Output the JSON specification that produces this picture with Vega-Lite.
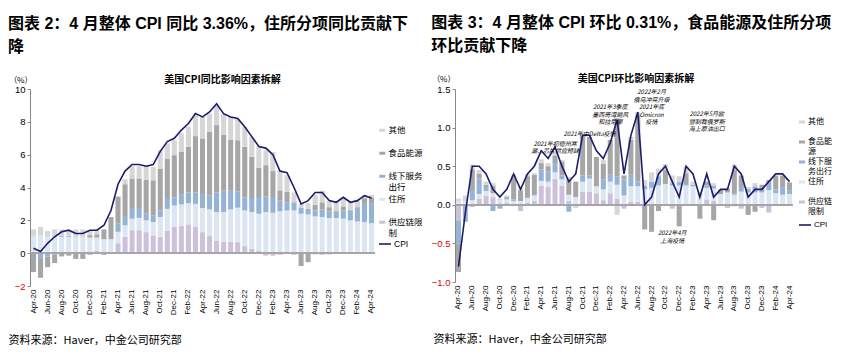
{
  "$schema": "https://vega.github.io/schema/vega-lite/v6.json",
  "background": "white",
  "padding": {"left": 8, "top": 15, "right": 0, "bottom": 0},
  "spacing": 8,
  "resolve": {"scale": {"fill": "independent", "stroke": "independent"}, "legend": {"fill": "independent", "stroke": "independent"}},
  "config": {
    "view": {"stroke": null},
    "font": "Liberation Sans, Noto Sans CJK SC",
    "axis": {"labelColor": "#000", "titleColor": "#000", "labelOverlap": false},
    "axisY": {"labelOverlap": false, "tickCount": 8},
    "axisQuantitative": {"labelOverlap": false}
  },
  "datasets": {
    "yoy": [
      {"m":"Apr-20","s":0.05,"h":1.0,"o":-0.05,"f":-1.1,"x":0.4,"c":0.3},
      {"m":"May-20","s":0.05,"h":1.05,"o":-0.3,"f":-1.2,"x":0.5,"c":0.1},
      {"m":"Jun-20","s":0,"h":1.0,"o":-0.2,"f":-0.65,"x":0.35,"c":0.6},
      {"m":"Jul-20","s":0.05,"h":0.95,"o":-0.1,"f":-0.5,"x":0.45,"c":1.0},
      {"m":"Aug-20","s":0.05,"h":0.95,"o":0.05,"f":-0.2,"x":0.4,"c":1.3},
      {"m":"Sep-20","s":0.05,"h":0.95,"o":0.05,"f":-0.15,"x":0.35,"c":1.4},
      {"m":"Oct-20","s":0.05,"h":0.9,"o":0,"f":-0.35,"x":0.5,"c":1.2},
      {"m":"Nov-20","s":0.05,"h":0.9,"o":0,"f":-0.35,"x":0.5,"c":1.2},
      {"m":"Dec-20","s":0.1,"h":0.85,"o":-0.1,"f":0.15,"x":0.3,"c":1.4},
      {"m":"Jan-21","s":0.15,"h":0.8,"o":-0.05,"f":0.2,"x":0.3,"c":1.4},
      {"m":"Feb-21","s":0.05,"h":0.8,"o":-0.1,"f":0.6,"x":0,"c":1.7},
      {"m":"Mar-21","s":0.1,"h":0.75,"o":0,"f":1.35,"x":0,"c":2.6},
      {"m":"Apr-21","s":0.6,"h":0.7,"o":0.5,"f":1.65,"x":0,"c":4.2},
      {"m":"May-21","s":1.0,"h":0.7,"o":0.56,"f":1.94,"x":0.3,"c":5.0},
      {"m":"Jun-21","s":1.4,"h":0.7,"o":0.6,"f":1.85,"x":0.75,"c":5.4},
      {"m":"Jul-21","s":1.4,"h":0.75,"o":0.6,"f":1.8,"x":0.75,"c":5.4},
      {"m":"Aug-21","s":1.28,"h":0.72,"o":0.4,"f":2.08,"x":0.87,"c":5.3},
      {"m":"Sep-21","s":1.08,"h":0.82,"o":0.4,"f":2.14,"x":0.81,"c":5.4},
      {"m":"Oct-21","s":0.98,"h":1.22,"o":0.4,"f":2.55,"x":1.12,"c":6.2},
      {"m":"Nov-21","s":1.38,"h":1.32,"o":0.6,"f":2.46,"x":0.92,"c":6.8},
      {"m":"Dec-21","s":1.6,"h":1.3,"o":0.5,"f":2.57,"x":0.91,"c":7.0},
      {"m":"Jan-22","s":1.65,"h":1.32,"o":0.63,"f":2.57,"x":1.13,"c":7.5},
      {"m":"Feb-22","s":1.75,"h":1.3,"o":0.65,"f":2.78,"x":1.22,"c":7.9},
      {"m":"Mar-22","s":1.6,"h":1.4,"o":0.7,"f":3.43,"x":1.27,"c":8.5},
      {"m":"Apr-22","s":1.28,"h":1.47,"o":0.85,"f":3.39,"x":1.31,"c":8.3},
      {"m":"May-22","s":1.04,"h":1.63,"o":0.83,"f":3.89,"x":1.11,"c":8.6},
      {"m":"Jun-22","s":0.77,"h":1.73,"o":1.2,"f":4.1,"x":1.2,"c":9.1},
      {"m":"Jul-22","s":0.71,"h":1.79,"o":1.3,"f":3.43,"x":1.27,"c":8.5},
      {"m":"Aug-22","s":0.71,"h":1.96,"o":1.13,"f":3.12,"x":1.38,"c":8.3},
      {"m":"Sep-22","s":0.67,"h":2.1,"o":0.98,"f":3.13,"x":1.32,"c":8.2},
      {"m":"Oct-22","s":0.43,"h":2.17,"o":0.8,"f":3.08,"x":1.22,"c":7.7},
      {"m":"Nov-22","s":0.26,"h":2.24,"o":0.8,"f":2.57,"x":1.23,"c":7.1},
      {"m":"Dec-22","s":0.15,"h":2.25,"o":1.02,"f":1.78,"x":1.3,"c":6.5},
      {"m":"Jan-23","s":-0.15,"h":2.5,"o":0.96,"f":1.9,"x":0.9,"c":6.4},
      {"m":"Feb-23","s":-0.15,"h":2.46,"o":0.96,"f":1.58,"x":1.17,"c":6.0},
      {"m":"Mar-23","s":-0.1,"h":2.55,"o":0.65,"f":0.63,"x":1.22,"c":5.0},
      {"m":"Apr-23","s":-0.05,"h":2.6,"o":0.5,"f":0.63,"x":1.02,"c":4.9},
      {"m":"May-23","s":-0.1,"h":2.6,"o":0.45,"f":0.05,"x":0.6,"c":4.0},
      {"m":"Jun-23","s":0,"h":2.4,"o":0.35,"f":-0.78,"x":0.25,"c":3.0},
      {"m":"Jul-23","s":0,"h":2.36,"o":0.34,"f":-0.55,"x":0.35,"c":3.2},
      {"m":"Aug-23","s":-0.08,"h":2.24,"o":0.36,"f":0.35,"x":0.6,"c":3.7},
      {"m":"Sep-23","s":-0.1,"h":2.2,"o":0.45,"f":0.45,"x":0.7,"c":3.7},
      {"m":"Oct-23","s":-0.08,"h":2.14,"o":0.41,"f":0.25,"x":0.4,"c":3.2},
      {"m":"Nov-23","s":-0.05,"h":2.14,"o":0.41,"f":0.05,"x":0.5,"c":3.1},
      {"m":"Dec-23","s":0,"h":2.1,"o":0.5,"f":0.25,"x":0.5,"c":3.4},
      {"m":"Jan-24","s":0,"h":2.0,"o":0.6,"f":0.05,"x":0.45,"c":3.1},
      {"m":"Feb-24","s":0,"h":1.93,"o":0.77,"f":0.1,"x":0.4,"c":3.2},
      {"m":"Mar-24","s":0,"h":1.9,"o":1.1,"f":0.35,"x":0.15,"c":3.5},
      {"m":"Apr-24","s":-0.05,"h":1.83,"o":1.22,"f":0.35,"x":0.15,"c":3.36}
    ],
    "mom": [
      {"m":"Apr-20","s":-0.2,"h":0.05,"o":-0.3,"f":-0.37,"x":0.03,"c":-0.8},
      {"m":"May-20","s":0,"h":0.05,"o":-0.22,"f":0,"x":0.07,"c":-0.1},
      {"m":"Jun-20","s":-0.03,"h":0.06,"o":0.12,"f":0.28,"x":0.06,"c":0.5},
      {"m":"Jul-20","s":0.08,"h":0.06,"o":0.2,"f":0.06,"x":0.05,"c":0.5},
      {"m":"Aug-20","s":0.12,"h":0.06,"o":0.05,"f":0.03,"x":0.04,"c":0.4},
      {"m":"Sep-20","s":0.1,"h":0.05,"o":-0.08,"f":0.1,"x":0.03,"c":0.2},
      {"m":"Oct-20","s":0.02,"h":0.04,"o":-0.05,"f":0,"x":0.02,"c":0.1},
      {"m":"Nov-20","s":0.03,"h":0.04,"o":0.03,"f":0,"x":0.02,"c":0.2},
      {"m":"Dec-20","s":0,"h":0.05,"o":0.02,"f":0.3,"x":0.02,"c":0.4},
      {"m":"Jan-21","s":-0.08,"h":0.05,"o":0,"f":0.14,"x":0.02,"c":0.2},
      {"m":"Feb-21","s":0.03,"h":0.06,"o":0,"f":0.28,"x":0.03,"c":0.4},
      {"m":"Mar-21","s":0.05,"h":0.07,"o":0.02,"f":0.25,"x":0.02,"c":0.5},
      {"m":"Apr-21","s":0.25,"h":0.06,"o":0.15,"f":0.08,"x":0.05,"c":0.7},
      {"m":"May-21","s":0.23,"h":0.07,"o":0.13,"f":0.07,"x":0.04,"c":0.6},
      {"m":"Jun-21","s":0.34,"h":0.08,"o":0.12,"f":0.1,"x":0.05,"c":0.75,"note":"2021年初德州寒|潮、芯片供应短缺","ny":0.83},
      {"m":"Jul-21","s":0.25,"h":0.08,"o":0.05,"f":0.18,"x":0.02,"c":0.5},
      {"m":"Aug-21","s":0.05,"h":0.08,"o":-0.09,"f":0.2,"x":0.03,"c":0.3},
      {"m":"Sep-21","s":0,"h":0.1,"o":0,"f":0.2,"x":-0.04,"c":0.4},
      {"m":"Oct-21","s":0.17,"h":0.13,"o":0.08,"f":0.52,"x":0,"c":0.9},
      {"m":"Nov-21","s":0.17,"h":0.17,"o":0.04,"f":0.5,"x":0,"c":0.9,"note":"2021年中Delta疫情","ny":0.95},
      {"m":"Dec-21","s":0.15,"h":0.09,"o":0,"f":0.38,"x":0,"c":0.7},
      {"m":"Jan-22","s":0.06,"h":0.14,"o":0.13,"f":0.2,"x":0.05,"c":0.6},
      {"m":"Feb-22","s":0.15,"h":0.15,"o":0.09,"f":0.45,"x":0,"c":0.8,"note":"2021年3季度|墨西哥湾飓风|和拉尼娜","ny":1.3},
      {"m":"Mar-22","s":0.08,"h":0.18,"o":0.11,"f":0.75,"x":-0.13,"c":1.1},
      {"m":"Apr-22","s":-0.05,"h":0.12,"o":0.21,"f":0.05,"x":0,"c":0.4},
      {"m":"May-22","s":0.04,"h":0.2,"o":0.15,"f":0.45,"x":0.04,"c":0.9},
      {"m":"Jun-22","s":0.04,"h":0.2,"o":0.06,"f":0.86,"x":0.04,"c":1.2},
      {"m":"Jul-22","s":0,"h":0.2,"o":0.05,"f":-0.32,"x":0.07,"c":0},
      {"m":"Aug-22","s":0,"h":0.22,"o":0.08,"f":-0.35,"x":0.12,"c":0.1,"note":"2022年2月|俄乌冲突升级||2021年底|Omicron|疫情","ny":1.5},
      {"m":"Sep-22","s":0,"h":0.25,"o":0.12,"f":-0.08,"x":0.1,"c":0.4},
      {"m":"Oct-22","s":0,"h":0.27,"o":0,"f":0.18,"x":0.08,"c":0.5},
      {"m":"Nov-22","s":-0.05,"h":0.25,"o":0.03,"f":0,"x":0.1,"c":0.3,"note":"2022年4月|上海疫情","ny":-0.33},
      {"m":"Dec-22","s":0,"h":0.25,"o":0.05,"f":-0.28,"x":0.07,"c":0.1},
      {"m":"Jan-23","s":0,"h":0.25,"o":0.02,"f":0.14,"x":0.08,"c":0.5},
      {"m":"Feb-23","s":0,"h":0.24,"o":0.02,"f":0,"x":0.04,"c":0.4},
      {"m":"Mar-23","s":0,"h":0.17,"o":0,"f":-0.18,"x":0,"c":0.1},
      {"m":"Apr-23","s":0.07,"h":0.15,"o":0.03,"f":0.05,"x":0,"c":0.4,"note":"2022年5月欧|盟制裁俄罗斯|海上原油出口","ny":1.21},
      {"m":"May-23","s":0.05,"h":0.16,"o":0.04,"f":-0.2,"x":0.03,"c":0.1},
      {"m":"Jun-23","s":0,"h":0.14,"o":0,"f":0.05,"x":0,"c":0.2},
      {"m":"Jul-23","s":-0.04,"h":0.16,"o":0,"f":0.05,"x":0,"c":0.2},
      {"m":"Aug-23","s":-0.02,"h":0.13,"o":0.02,"f":0.3,"x":0.07,"c":0.5},
      {"m":"Sep-23","s":-0.05,"h":0.17,"o":0.06,"f":0.15,"x":0,"c":0.4},
      {"m":"Oct-23","s":0,"h":0.16,"o":0.05,"f":-0.13,"x":0.02,"c":0.1},
      {"m":"Nov-23","s":0,"h":0.16,"o":0.08,"f":-0.09,"x":0.04,"c":0.2},
      {"m":"Dec-23","s":-0.04,"h":0.16,"o":0.06,"f":0.04,"x":0,"c":0.2},
      {"m":"Jan-24","s":-0.1,"h":0.19,"o":0.1,"f":0.03,"x":0,"c":0.3},
      {"m":"Feb-24","s":0,"h":0.15,"o":0.05,"f":0.18,"x":0,"c":0.4},
      {"m":"Mar-24","s":0,"h":0.13,"o":0.1,"f":0.15,"x":0,"c":0.4},
      {"m":"Apr-24","s":0,"h":0.14,"o":0.05,"f":0.1,"x":0,"c":0.3}
    ]
  },
  "hconcat": [
    {
      "title": {"text": ["图表 2：4 月整体 CPI 同比 3.36%，住所分项同比贡献下", "降"], "anchor": "start", "fontSize": 16, "fontWeight": "bold", "font": "Liberation Sans, Noto Sans CJK SC", "lineHeight": 23, "color": "#000", "offset": 20},
      "vconcat": [
        {
          "title": {"text": "美国CPI同比影响因素拆解", "anchor": "middle", "frame": "group", "fontSize": 10, "fontWeight": "bold", "font": "Noto Sans CJK SC", "color": "#000", "dx": 20, "offset": -9},
          "width": 345,
          "height": 197,
          "data": {"name": "yoy"},
          "layer": [
            {
              "transform": [
                {"fold": ["s", "h", "o", "f", "x"], "as": ["k", "v"]},
                {"calculate": "indexof(['s','h','o','f','x'], datum.k)", "as": "ord"}
              ],
              "mark": {"type": "bar"},
              "encoding": {
                "x": {"field": "m", "type": "ordinal", "sort": null, "scale": {"paddingInner": 0.28, "paddingOuter": 0.14},
                  "axis": {"values": ["Apr-20","Jun-20","Aug-20","Oct-20","Dec-20","Feb-21","Apr-21","Jun-21","Aug-21","Oct-21","Dec-21","Feb-22","Apr-22","Jun-22","Aug-22","Oct-22","Dec-22","Feb-23","Apr-23","Jun-23","Aug-23","Oct-23","Dec-23","Feb-24","Apr-24"],
                    "labelAngle": 270, "labelFontSize": 8, "labelFont": "Liberation Sans", "labelPadding": 3, "ticks": false, "domain": false,
                    "title": "资料来源：Haver，中金公司研究部", "titleFont": "Noto Sans CJK SC", "titleFontSize": 11, "titleFontWeight": "normal",
                    "titleAnchor": "start", "titleAlign": "left", "titleX": -22, "titleY": 54, "titleBaseline": "middle"}},
                "y": {"field": "v", "type": "quantitative", "stack": "zero", "title": "（%）", "scale": {"domain": [-2, 10], "nice": false},
                  "axis": {"values": [-2, 0, 2, 4, 6, 8, 10], "labelOverlap": false, "grid": false, "domainColor": "#888", "tickColor": "#888", "tickSize": 3,
                    "labelFontSize": 9.5, "labelFont": "Liberation Sans", "labelPadding": 2,
                    "labelColor": {"condition": {"test": "datum.value < 0", "value": "#e00000"}, "value": "#000"},
                    "titleAngle": 0, "titleX": 2, "titleY": -9, "titleAlign": "right", "titleBaseline": "middle", "titleFontSize": 8, "titleFontWeight": "normal", "titleFont": "Noto Sans CJK SC"}},
                "fill": {"field": "k", "type": "nominal",
                  "scale": {"domain": ["x", "f", "o", "h", "s"], "range": ["#d6d6d6", "#a6a6a6", "#95b3d7", "#dce6f2", "#ccc1da"]},
                  "legend": {"orient": "none", "legendX": 348, "legendY": 37, "title": null, "symbolType": "M-1,-0.5H1V0.5H-1Z", "symbolSize": 36, "symbolStrokeWidth": 0,
                    "labelFontSize": 8.5, "labelFont": "Noto Sans CJK SC", "gridAlign": "all", "rowPadding": 3, "labelOffset": 2, "labelLimit": 60,
                    "labelExpr": "datum.label == 'x' ? '其他' : datum.label == 'f' ? '食品能源' : datum.label == 'o' ? ['线下服务','出行'] : datum.label == 'h' ? '住所' : ['供应链限','制']"}},
                "order": {"field": "ord", "type": "quantitative"}
              }
            },
            {"mark": {"type": "rule", "color": "#a6a6a6", "strokeWidth": 1}, "encoding": {"y": {"datum": 0}}},
            {
              "mark": {"type": "line", "strokeWidth": 1.6},
              "encoding": {
                "x": {"field": "m", "type": "ordinal", "sort": null},
                "y": {"field": "c", "type": "quantitative", "title": "（%）"},
                "stroke": {"datum": "CPI", "type": "nominal", "scale": {"range": ["#1c1c6e"]},
                  "legend": {"orient": "none", "legendX": 348, "legendY": 148, "title": null, "symbolType": "stroke", "symbolSize": 144, "symbolStrokeWidth": 1.6, "labelFontSize": 8.5, "labelFont": "Liberation Sans", "labelOffset": 2}}
              }
            }
          ]
        }
      ]
    },
    {
      "title": {"text": ["图表 3：4 月整体 CPI 环比 0.31%，食品能源及住所分项", "环比贡献下降"], "anchor": "start", "fontSize": 16, "fontWeight": "bold", "font": "Liberation Sans, Noto Sans CJK SC", "lineHeight": 23, "color": "#000", "offset": 20},
      "vconcat": [
        {
          "title": {"text": "美国CPI环比影响因素拆解", "anchor": "middle", "frame": "group", "fontSize": 10, "fontWeight": "bold", "font": "Noto Sans CJK SC", "color": "#000", "dx": 12, "offset": -9},
          "width": 338,
          "height": 193,
          "data": {"name": "mom"},
          "layer": [
            {
              "transform": [
                {"fold": ["s", "h", "o", "f", "x"], "as": ["k", "v"]},
                {"calculate": "indexof(['s','h','o','f','x'], datum.k)", "as": "ord"}
              ],
              "mark": {"type": "bar"},
              "encoding": {
                "x": {"field": "m", "type": "ordinal", "sort": null, "scale": {"paddingInner": 0.27, "paddingOuter": 0.14},
                  "axis": {"values": ["Apr-20","Jun-20","Aug-20","Oct-20","Dec-20","Feb-21","Apr-21","Jun-21","Aug-21","Oct-21","Dec-21","Feb-22","Apr-22","Jun-22","Aug-22","Oct-22","Dec-22","Feb-23","Apr-23","Jun-23","Aug-23","Oct-23","Dec-23","Feb-24","Apr-24"],
                    "labelAngle": 270, "labelFontSize": 8, "labelFont": "Liberation Sans", "labelPadding": 3, "ticks": false, "domain": false,
                    "title": "资料来源：Haver，中金公司研究部", "titleFont": "Noto Sans CJK SC", "titleFontSize": 11, "titleFontWeight": "normal",
                    "titleAnchor": "start", "titleAlign": "left", "titleX": -22, "titleY": 57, "titleBaseline": "middle"}},
                "y": {"field": "v", "type": "quantitative", "stack": "zero", "title": "（%）", "scale": {"domain": [-1, 1.5], "nice": false},
                  "axis": {"values": [-1, -0.5, 0, 0.5, 1, 1.5], "labelOverlap": false, "format": ".1f", "grid": false, "domainColor": "#888", "tickColor": "#888", "tickSize": 3,
                    "labelFontSize": 9.5, "labelFont": "Liberation Sans", "labelPadding": 2,
                    "labelColor": {"condition": {"test": "datum.value < 0", "value": "#e00000"}, "value": "#000"},
                    "titleAngle": 0, "titleX": 0, "titleY": -10, "titleAlign": "right", "titleBaseline": "middle", "titleFontSize": 8, "titleFontWeight": "normal", "titleFont": "Noto Sans CJK SC"}},
                "fill": {"field": "k", "type": "nominal",
                  "scale": {"domain": ["x", "f", "o", "h", "s"], "range": ["#d6d6d6", "#a6a6a6", "#95b3d7", "#dce6f2", "#ccc1da"]},
                  "legend": {"orient": "none", "legendX": 343, "legendY": 29, "title": null, "symbolType": "M-1,-0.5H1V0.5H-1Z", "symbolSize": 36, "symbolStrokeWidth": 0,
                    "labelFontSize": 8, "labelFont": "Noto Sans CJK SC", "gridAlign": "all", "rowPadding": 2, "labelOffset": 2, "labelLimit": 50,
                    "labelExpr": "datum.label == 'x' ? '其他' : datum.label == 'f' ? ['食品能','源'] : datum.label == 'o' ? ['线下服','务出行'] : datum.label == 'h' ? '住所' : ['供应链','限制']"}},
                "order": {"field": "ord", "type": "quantitative"}
              }
            },
            {"mark": {"type": "rule", "color": "#a6a6a6", "strokeWidth": 1}, "encoding": {"y": {"datum": 0}}},
            {
              "mark": {"type": "line", "strokeWidth": 1.6},
              "encoding": {
                "x": {"field": "m", "type": "ordinal", "sort": null},
                "y": {"field": "c", "type": "quantitative", "title": "（%）"},
                "stroke": {"datum": "CPI", "type": "nominal", "scale": {"range": ["#1c1c6e"]},
                  "legend": {"orient": "none", "legendX": 343, "legendY": 129, "title": null, "symbolType": "stroke", "symbolSize": 144, "symbolStrokeWidth": 1.6, "labelFontSize": 8, "labelFont": "Liberation Sans", "labelOffset": 2}}
              }
            },
            {
              "transform": [{"filter": "isValid(datum.note)"}],
              "mark": {"type": "text", "fontSize": 6, "fontStyle": "italic", "lineBreak": "|", "lineHeight": 7.5, "baseline": "top", "align": "center", "font": "Noto Sans CJK SC", "color": "#000"},
              "encoding": {
                "x": {"field": "m", "type": "ordinal", "sort": null},
                "y": {"field": "ny", "type": "quantitative", "title": "（%）"},
                "text": {"field": "note"}
              }
            }
          ]
        }
      ]
    }
  ]
}
